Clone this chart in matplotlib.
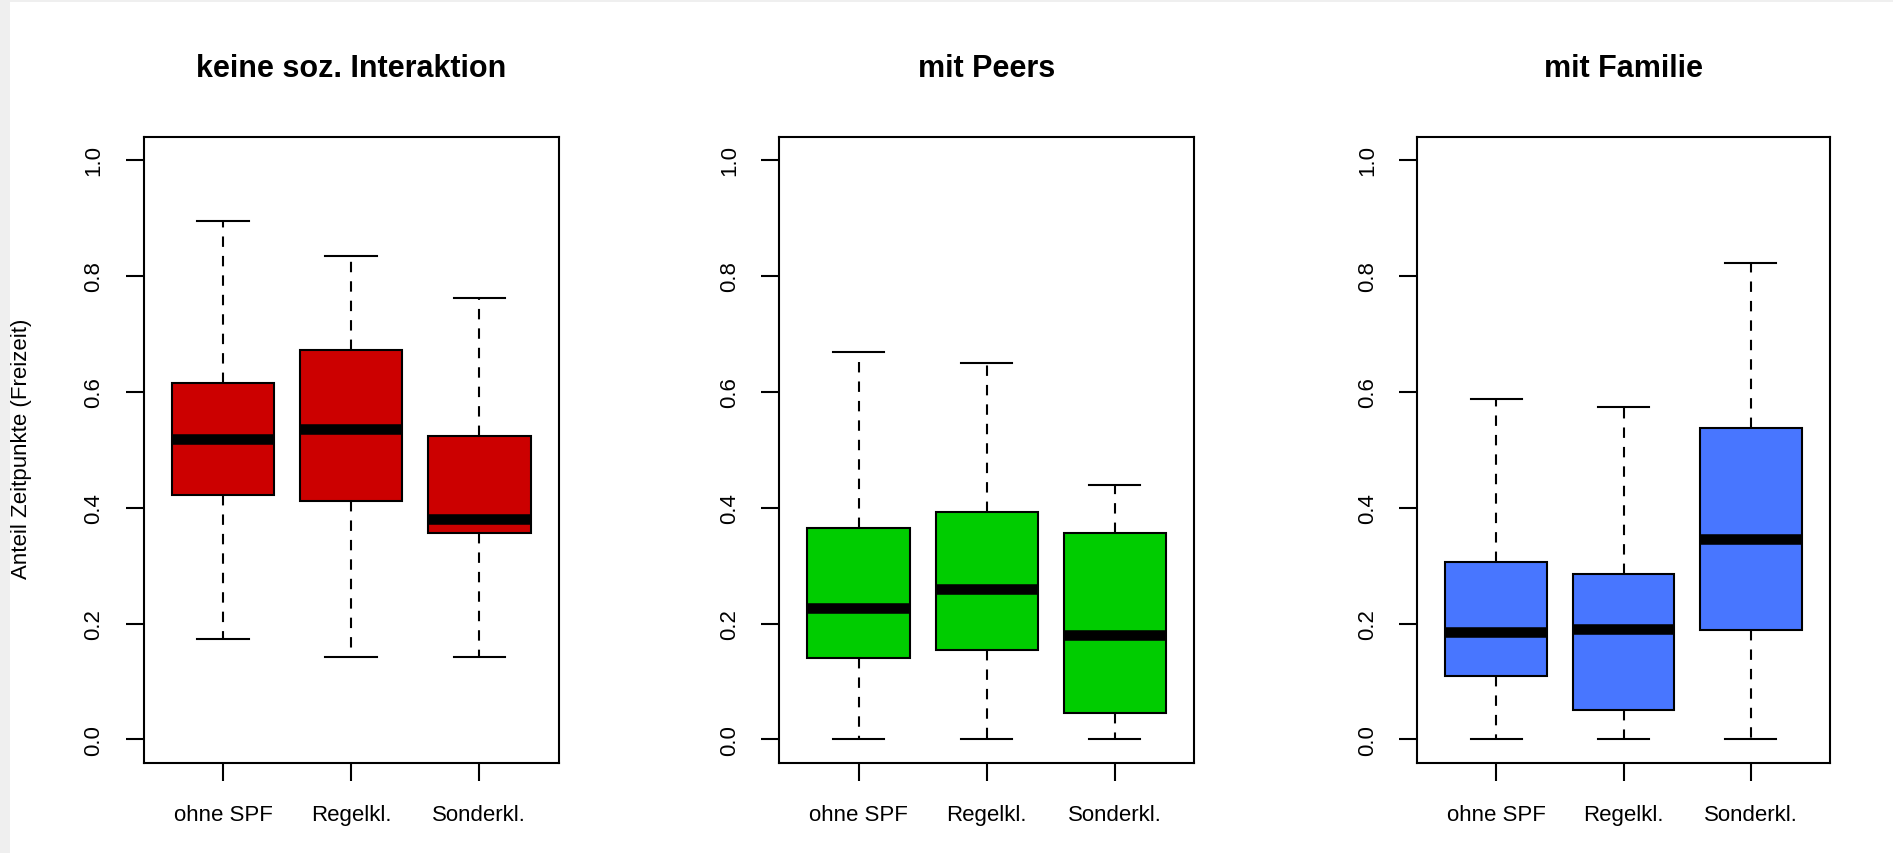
import matplotlib
matplotlib.use('Agg')
import matplotlib.pyplot as plt
from matplotlib.patches import Rectangle

# ---- data ----
categories = ['ohne SPF', 'Regelkl.', 'Sonderkl.']
titles = ['keine soz. Interaktion', 'mit Peers', 'mit Familie']
box_colors = ['#CC0000', '#00CC00', '#4876FF']
ylabel = 'Anteil Zeitpunkte (Freizeit)'
yticks = [0.0, 0.2, 0.4, 0.6, 0.8, 1.0]
ytick_labels = ['0.0', '0.2', '0.4', '0.6', '0.8', '1.0']

whislo = [[0.174, 0.142, 0.142], [0.0, 0.0, 0.0], [0.0, 0.0, 0.0]]
q1 = [[0.422, 0.411, 0.357], [0.141, 0.154, 0.046], [0.110, 0.050, 0.188]]
med = [[0.518, 0.536, 0.380], [0.227, 0.259, 0.180], [0.185, 0.191, 0.346]]
q3 = [[0.615, 0.672, 0.523], [0.365, 0.392, 0.357], [0.307, 0.285, 0.538]]
whishi = [[0.895, 0.834, 0.761], [0.669, 0.650, 0.439], [0.588, 0.574, 0.822]]

plt.rcParams['font.family'] = ['Liberation Sans', 'DejaVu Sans']
plt.rcParams['lines.scale_dashes'] = False

W, H = 1893, 854
fig = plt.figure(figsize=(W / 100, H / 100), dpi=100)
fig.patch.set_facecolor('white')

# light gray screenshot border
fig.patches.append(Rectangle((0, 0), 10 / W, 1, transform=fig.transFigure,
                             facecolor='#efefef', edgecolor='none', zorder=0))
fig.patches.append(Rectangle((0, 1 - 2.5 / H), 1, 2.5 / H, transform=fig.transFigure,
                             facecolor='#efefef', edgecolor='none', zorder=0))

ax_left_px = [143.5, 779.3, 1417.0]
ax_right_px = [558.7, 1194.2, 1830.0]
ax_top_px, ax_bot_px = 137.8, 763.6

edge_lw = 1.5
for i in range(3):
    l = ax_left_px[i] / W
    w = (ax_right_px[i] - ax_left_px[i]) / W
    b = 1 - ax_bot_px / H
    h = (ax_bot_px - ax_top_px) / H
    ax = fig.add_axes([l, b, w, h])
    stats = []
    for j in range(3):
        stats.append(dict(label=categories[j], whislo=whislo[i][j], q1=q1[i][j],
                          med=med[i][j], q3=q3[i][j], whishi=whishi[i][j], fliers=[]))
    ax.bxp(stats, positions=[1, 2, 3], widths=0.8, patch_artist=True,
           showfliers=False,
           boxprops=dict(facecolor=box_colors[i], edgecolor='black', linewidth=edge_lw),
           medianprops=dict(color='black', linewidth=7.6, solid_capstyle='butt'),
           whiskerprops=dict(color='black', linewidth=edge_lw, linestyle=(0, (7.5, 6.5))),
           capprops=dict(color='black', linewidth=edge_lw),
           capwidths=0.4)
    ax.set_xlim(0.38, 3.62)
    ax.set_ylim(-0.04, 1.04)
    ax.set_yticks(yticks)
    ax.set_yticklabels(ytick_labels, fontsize=16, rotation=90, va='center')
    ax.set_xticks([1, 2, 3])
    ax.set_xticklabels(categories, fontsize=16)
    ax.tick_params(axis='both', length=13, width=edge_lw, color='black')
    ax.tick_params(axis='y', pad=15)
    ax.tick_params(axis='x', pad=17)
    for sp in ax.spines.values():
        sp.set_linewidth(edge_lw)
        sp.set_color('black')
    ax.text(0.5, (ax_bot_px - 77) / (ax_bot_px - ax_top_px), titles[i],
            transform=ax.transAxes, ha='center', va='baseline',
            fontsize=22, fontweight='bold')

fig.text(22 / W, 1 - 449 / H, ylabel, rotation=90, ha='center', va='center', fontsize=16)

fig.savefig('out.png', dpi=100)
